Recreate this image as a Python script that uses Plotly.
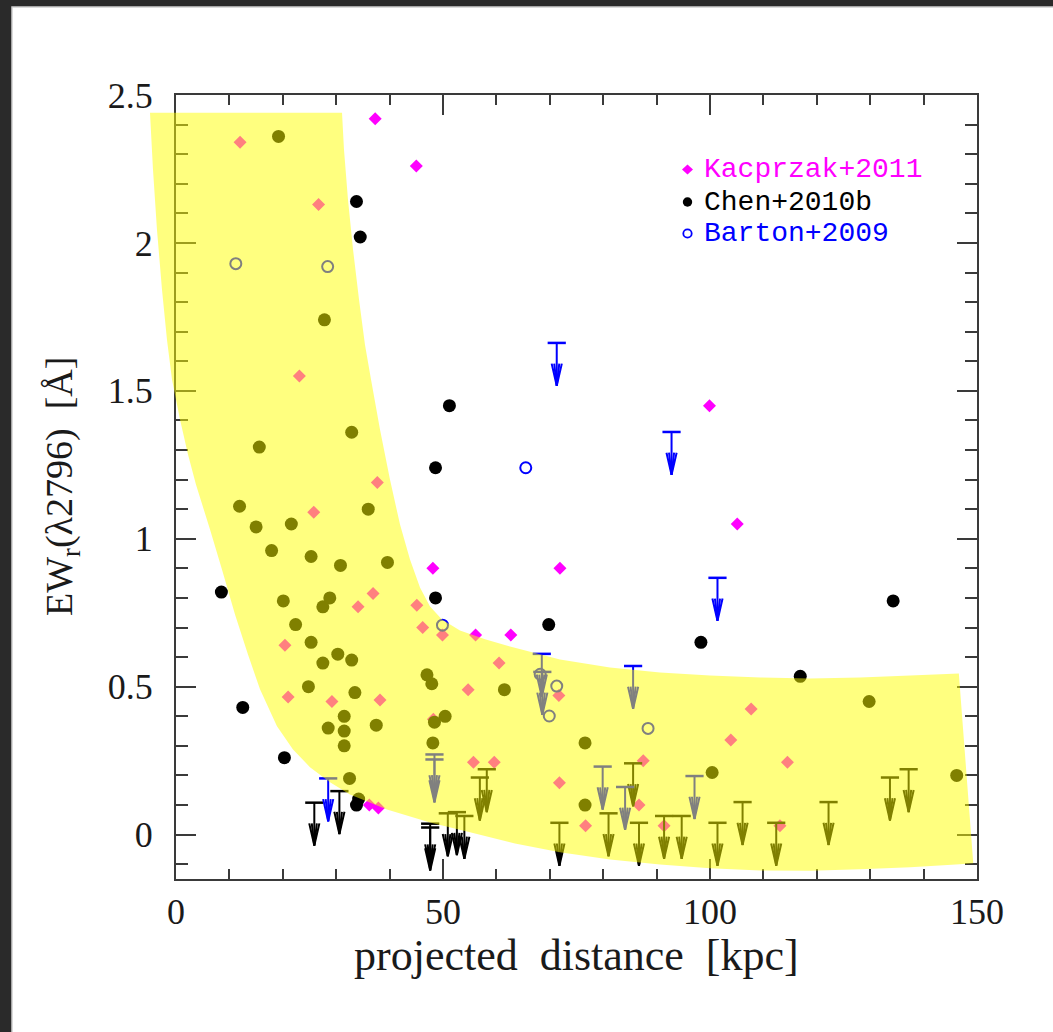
import plotly.graph_objects as go

# ---------------------------------------------------------------- data
X_RANGE = [0, 150]
Y_RANGE = [-0.15, 2.5]
x_ticks = [0, 50, 100, 150]
y_ticks = [0, 0.5, 1, 1.5, 2, 2.5]

# Kacprzak+2011 detections
kac_x = [12.0, 26.7, 23.1, 37.3, 45.0, 99.9, 105.1, 71.9, 48.1, 56.1, 62.7, 37.7,
         25.8, 34.1, 36.9, 45.1, 46.2, 49.9, 20.4, 60.5, 54.7, 71.7, 21.0, 29.2,
         38.2, 48.2, 107.7, 103.9, 55.7, 59.6, 87.5, 114.5, 71.8, 86.7, 76.7, 91.4,
         113.1, 36.2, 37.9]
kac_y = [2.34, 2.13, 1.55, 2.42, 2.26, 1.45, 1.05, 0.90, 0.90, 0.675, 0.675, 1.19,
         1.09, 0.77, 0.815, 0.775, 0.70, 0.675, 0.64, 0.58, 0.49, 0.47, 0.465, 0.45,
         0.455, 0.39, 0.425, 0.32, 0.245, 0.245, 0.25, 0.245, 0.175, 0.10, 0.03, 0.03,
         0.03, 0.10, 0.09]

# Chen+2010b detections
chen_x = [19.2, 33.8, 34.5, 27.8, 51.2, 32.9, 15.6, 48.6, 11.9, 36.0, 15.0, 21.6,
          17.9, 25.3, 30.8, 39.6, 8.5, 20.1, 28.8, 27.5, 48.6, 22.4, 25.3, 30.3,
          27.5, 32.9, 47.0, 47.9, 12.5, 20.3, 24.8, 33.5, 31.5, 28.5, 31.5, 37.5,
          31.5, 32.5, 50.4, 48.1, 48.4, 34.2, 33.8, 69.8, 98.3, 134.3, 116.9, 61.5,
          129.8, 76.6, 100.4, 146.2, 76.6]
chen_y = [2.36, 2.14, 2.02, 1.74, 1.45, 1.36, 1.31, 1.24, 1.11, 1.10, 1.04, 1.05,
          0.96, 0.94, 0.91, 0.92, 0.82, 0.79, 0.80, 0.77, 0.80, 0.71, 0.65, 0.61,
          0.58, 0.59, 0.54, 0.51, 0.43, 0.26, 0.50, 0.48, 0.40, 0.36, 0.35, 0.37,
          0.30, 0.19, 0.40, 0.31, 0.38, 0.12, 0.10, 0.71, 0.65, 0.79, 0.535, 0.49,
          0.45, 0.31, 0.21, 0.20, 0.10]

# Chen+2010b upper limits
chen_lim_x = [25.9, 30.6, 47.6, 47.6, 50.9, 52.6, 54.0, 56.9, 58.2, 71.8, 81.0,
              85.6, 86.7, 91.4, 94.7, 101.4, 106.1, 112.4, 122.2, 133.7, 137.2]
chen_lim_y = [0.108, 0.147, 0.037, 0.024, 0.072, 0.076, 0.063, 0.193, 0.221, 0.040,
              0.072, 0.241, 0.040, 0.063, 0.063, 0.040, 0.110, 0.040, 0.110, 0.193,
              0.221]

# Barton+2009 detections
barton_x = [11.2, 28.4, 65.5, 49.9, 68.2, 71.3, 69.9, 88.4]
barton_y = [1.93, 1.92, 1.24, 0.708, 0.542, 0.502, 0.401, 0.359]

# Barton+2009 upper limits
barton_lim_x = [28.5, 48.4, 48.4, 68.5, 68.6, 71.3, 92.8, 101.4, 85.6, 79.9, 84.1, 97.1]
barton_lim_y = [0.190, 0.271, 0.254, 0.611, 0.550, 1.662, 1.361, 0.868, 0.570, 0.230,
                0.161, 0.198]

# shaded band: outer (lower-left) edge and inner (upper-right) edge
band_outer_x = [-4.87, -4.31, -3.56, -2.62, -1.69, -0.75, 0.75, 2.25, 3.75, 6.37, 8.61,
                11.05, 13.48, 15.73, 18.91, 21.91, 25.09, 28.84, 32.58, 39.51, 47.57,
                55.06, 63.48, 71.91, 81.27, 90.64, 100.0, 109.4, 118.7, 128.1, 137.5,
                146.8, 149.3]
band_outer_y = [2.440, 2.248, 2.044, 1.842, 1.673, 1.538, 1.403, 1.285, 1.183, 1.031,
                0.896, 0.744, 0.609, 0.491, 0.366, 0.288, 0.228, 0.177, 0.136, 0.085,
                0.041, 0.008, -0.030, -0.060, -0.084, -0.101, -0.114, -0.121, -0.122,
                -0.117, -0.110, -0.100, -0.097]
band_inner_x = [31.09, 31.46, 32.21, 33.15, 34.27, 35.39, 36.52, 38.20, 40.07, 41.95,
                43.82, 45.69, 47.57, 49.81, 53.18, 57.87, 62.55, 71.91, 81.27, 90.64,
                100.0, 109.4, 118.7, 128.1, 137.5, 146.6]
band_inner_y = [2.440, 2.315, 2.146, 1.978, 1.809, 1.656, 1.538, 1.369, 1.200, 1.048,
                0.930, 0.835, 0.771, 0.727, 0.690, 0.660, 0.636, 0.592, 0.565, 0.548,
                0.538, 0.531, 0.528, 0.531, 0.538, 0.545]

legend_labels = ["Kacprzak+2011", "Chen+2010b", "Barton+2009"]

# ---------------------------------------------------------------- style
MAGENTA = "#ff00ff"
BLACK = "#000000"
BLUE = "#0000ff"
AXIS_COL = "#3a3a3a"
SERIF = "Liberation Serif, Times New Roman, serif"
MONO = "Liberation Mono, Courier New, monospace"

W, H = 1053, 1032
M_L, M_R, M_T, M_B = 176, 76, 95, 153
PLOT_W = W - M_L - M_R
PLOT_H = H - M_T - M_B

ARROW_LEN = 0.145   # arrow length in EW units
HEAD_H = 0.075      # arrow barb height in EW units
HEAD_W = 0.95       # arrow barb half-width in kpc


def px_to_paper_x(px):
    return (px - M_L) / PLOT_W


def px_to_paper_y(py):
    return 1 - (py - M_T) / PLOT_H


def limit_segments(xs, ys):
    """Shaft plus barbed head for each upper-limit arrow."""
    lx, ly = [], []
    for x, y in zip(xs, ys):
        tip = y - ARROW_LEN
        lx += [x, x, None, x - HEAD_W, x, x + HEAD_W, None,
               x - HEAD_W / 2, x, x + HEAD_W / 2, None]
        ly += [y, tip, None, tip + HEAD_H, tip, tip + HEAD_H, None,
               tip + HEAD_H, tip, tip + HEAD_H, None]
    return lx, ly


fig = go.Figure()

fig.add_trace(go.Scatter(
    x=kac_x, y=kac_y, mode="markers", name=legend_labels[0],
    marker=dict(symbol="diamond", size=10, color=MAGENTA, line=dict(width=0)),
))
fig.add_trace(go.Scatter(
    x=chen_x, y=chen_y, mode="markers", name=legend_labels[1],
    marker=dict(symbol="circle", size=13, color=BLACK, line=dict(width=0)),
))

cx, cy = limit_segments(chen_lim_x, chen_lim_y)
fig.add_trace(go.Scatter(x=cx, y=cy, mode="lines", line=dict(color=BLACK, width=2),
                         hoverinfo="skip"))
fig.add_trace(go.Scatter(
    x=chen_lim_x, y=chen_lim_y, mode="markers",
    marker=dict(symbol="line-ew", size=13, line=dict(width=2.5, color=BLACK)),
))

fig.add_trace(go.Scatter(
    x=barton_x, y=barton_y, mode="markers", name=legend_labels[2],
    marker=dict(symbol="circle-open", size=11, color=BLUE, line=dict(width=2)),
))
bx, by = limit_segments(barton_lim_x, barton_lim_y)
fig.add_trace(go.Scatter(x=bx, y=by, mode="lines", line=dict(color=BLUE, width=2),
                         hoverinfo="skip"))
fig.add_trace(go.Scatter(
    x=barton_lim_x, y=barton_lim_y, mode="markers",
    marker=dict(symbol="line-ew", size=13, line=dict(width=2.5, color=BLUE)),
))

# translucent band laid over the points (x in axis fraction so it may overhang)
span = X_RANGE[1] - X_RANGE[0]
pts = list(zip(band_outer_x, band_outer_y)) + list(zip(band_inner_x, band_inner_y))[::-1]
band_path = "M " + " L ".join(f"{(x - X_RANGE[0]) / span:.5f},{y:.4f}" for x, y in pts) + " Z"

shapes = [
    # white card on dark surround
    dict(type="rect", xref="paper", yref="paper", layer="below",
         x0=px_to_paper_x(12), x1=px_to_paper_x(W + 20),
         y0=px_to_paper_y(H + 20), y1=px_to_paper_y(7),
         fillcolor="white", line=dict(color="#cfcfcf", width=1.5)),
    dict(type="path", xref="paper", yref="y", layer="above", path=band_path,
         fillcolor="rgba(255,255,0,0.5)", line=dict(width=0)),
]

# legend keys and labels
leg_x_key = px_to_paper_x(687.5)
leg_x_txt = px_to_paper_x(702)
leg_rows = [169.5, 202, 233.5]
leg_colors = [MAGENTA, BLACK, BLUE]
shapes.append(dict(type="path", xref="paper", yref="paper", xsizemode="pixel",
                   ysizemode="pixel", xanchor=leg_x_key, yanchor=px_to_paper_y(leg_rows[0]),
                   path="M -5.5,0 L 0,5 L 5.5,0 L 0,-5 Z", fillcolor=MAGENTA,
                   line=dict(width=0)))
shapes.append(dict(type="circle", xref="paper", yref="paper", xsizemode="pixel",
                   ysizemode="pixel", xanchor=leg_x_key, yanchor=px_to_paper_y(leg_rows[1]),
                   x0=-4.7, x1=4.7, y0=-4.7, y1=4.7, fillcolor=BLACK, line=dict(width=0)))
shapes.append(dict(type="circle", xref="paper", yref="paper", xsizemode="pixel",
                   ysizemode="pixel", xanchor=leg_x_key, yanchor=px_to_paper_y(leg_rows[2]),
                   x0=-4.2, x1=4.2, y0=-4.2, y1=4.2, fillcolor="rgba(0,0,0,0)",
                   line=dict(width=1.8, color=BLUE)))

annotations = []
for label, row, col in zip(legend_labels, leg_rows, leg_colors):
    annotations.append(dict(text=label, xref="paper", yref="paper", x=leg_x_txt,
                            y=px_to_paper_y(row), xanchor="left", yanchor="middle",
                            showarrow=False, font=dict(family=MONO, size=28, color=col)))

annotations.append(dict(text="projected\u00a0 distance\u00a0 [kpc]", xref="paper",
                        yref="paper", x=0.5, y=px_to_paper_y(955), xanchor="center",
                        yanchor="middle", showarrow=False,
                        font=dict(family=SERIF, size=44, color="#1a1a1a")))
annotations.append(dict(text="EW<sub>r</sub>(λ2796)\u00a0 [Å]", xref="paper", yref="paper",
                        x=px_to_paper_x(62), y=0.5, xanchor="center", yanchor="middle",
                        textangle=-90, showarrow=False,
                        font=dict(family=SERIF, size=38, color="#1a1a1a")))

axis_common = dict(
    showgrid=False, zeroline=False, showline=True, linecolor=AXIS_COL, linewidth=2,
    mirror="allticks", ticks="inside", ticklen=20, tickwidth=2, tickcolor=AXIS_COL,
    tickfont=dict(family=SERIF, size=36, color="#1a1a1a"),
)

fig.update_layout(
    width=W, height=H, autosize=False,
    margin=dict(l=M_L, r=M_R, t=M_T, b=M_B, pad=0),
    paper_bgcolor="#2a2a2a", plot_bgcolor="white",
    showlegend=False,
    shapes=shapes, annotations=annotations,
    xaxis=dict(range=X_RANGE, tickvals=x_ticks, ticklabelstandoff=0,
               minor=dict(dtick=10, tick0=0, ticks="inside", ticklen=10, tickwidth=2,
                          tickcolor=AXIS_COL),
               **axis_common),
    yaxis=dict(range=Y_RANGE, tickvals=y_ticks, ticklabelstandoff=14,
               minor=dict(dtick=0.1, tick0=0, ticks="inside", ticklen=12, tickwidth=2,
                          tickcolor=AXIS_COL),
               **axis_common),
)

fig.write_html("out.html")
